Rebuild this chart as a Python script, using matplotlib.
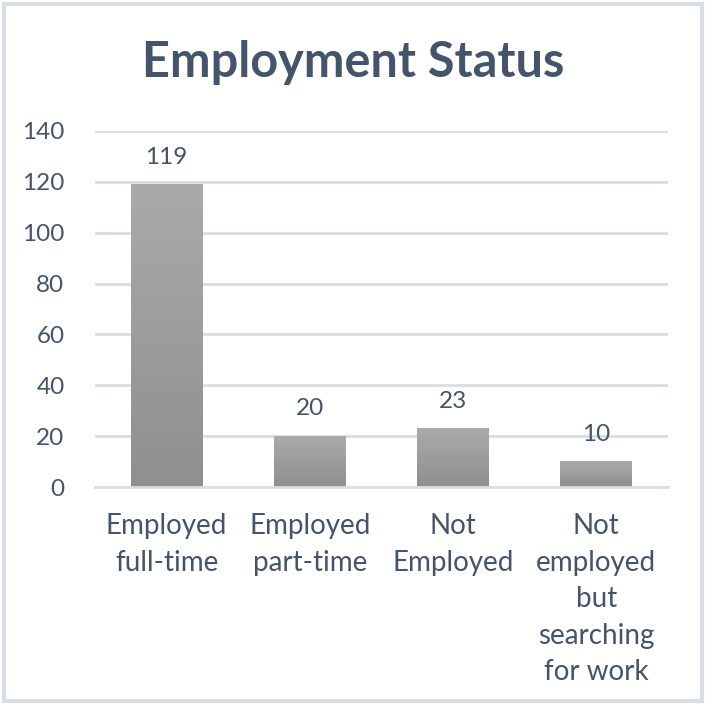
import matplotlib.pyplot as plt
import numpy as np
from matplotlib.colors import LinearSegmentedColormap
from matplotlib.patches import Rectangle

categories = ["Employed\nfull-time", "Employed\npart-time", "Not\nEmployed",
              "Not\nemployed\nbut\nsearching\nfor work"]
values = [119, 20, 23, 10]
yticks = [0, 20, 40, 60, 80, 100, 120, 140]

TEXT = "#44546A"
GRID = "#D9DEE5"
FONT = "Lato"

fig = plt.figure(figsize=(7.06, 7.05), dpi=100)
ax = fig.add_axes([0.1346, 0.3092, 0.8114, 0.505])

x = np.arange(len(values))
width = 0.5
grad = np.linspace(0, 1, 256).reshape(-1, 1)
cmap = LinearSegmentedColormap.from_list("g", ["#8F8F8F", "#AAAAAA"])
for xi, v in zip(x, values):
    # vertical gradient: light top, darker bottom
    ax.imshow(grad, cmap=cmap, extent=[xi - width / 2, xi + width / 2, 0, v],
              origin="lower", aspect="auto", zorder=2)
    ax.annotate(str(v), (xi, v), xytext=(0, 12), textcoords="offset points",
                ha="center", va="bottom", fontsize=17.5, color=TEXT,
                family=FONT, zorder=3)

ax.set_xlim(-0.5, len(values) - 0.5)
ax.set_ylim(0, 140)
ax.set_yticks(yticks)
ax.set_xticks(x)
ax.set_xticklabels(categories, fontsize=20, color=TEXT, family=FONT, linespacing=1.5)
for lbl in ax.get_yticklabels():
    lbl.set_fontsize(17.5)
    lbl.set_color(TEXT)
    lbl.set_family(FONT)
ax.tick_params(length=0)
ax.tick_params(axis="x", pad=19)
ax.tick_params(axis="y", pad=22)
ax.grid(axis="y", color=GRID, linewidth=2, zorder=0)
ax.set_axisbelow(True)
for s in ["top", "right", "left"]:
    ax.spines[s].set_visible(False)
ax.spines["bottom"].set_color(GRID)
ax.spines["bottom"].set_linewidth(2)

fig.text(0.5, 0.912, "Employment Status", ha="center", va="center", fontsize=35,
         fontweight="bold", color=TEXT, family=FONT)

fig.patches.append(Rectangle((0.005, 0.005), 0.99, 0.99, transform=fig.transFigure,
                             fill=False, edgecolor=GRID, linewidth=3))

fig.savefig("out.png", dpi=100)
